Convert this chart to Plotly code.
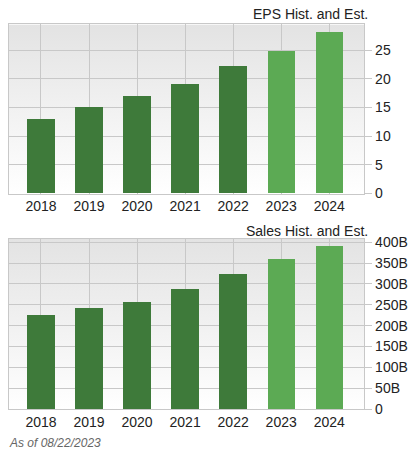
import base64
import plotly.graph_objects as go

years = ["2018", "2019", "2020", "2021", "2022", "2023", "2024"]
is_estimate = [False, False, False, False, False, True, True]
eps_values = [12.88, 15.11, 16.88, 19.02, 22.19, 24.8, 28.05]
sales_values = [226.2, 242.2, 257.1, 287.6, 324.2, 361.0, 391.0]  # billions
sales_ticks = [0, 50, 100, 150, 200, 250, 300, 350, 400]
sales_tick_labels = ["0"] + [f"{v}B" for v in sales_ticks[1:]]

W, H = 411, 464
HIST_COLOR = '#3e7a3a'
EST_COLOR = '#5caa54'
GRID = '#c8c8c8'
FONT = "Liberation Sans, Arial, sans-serif"

bar_colors = [EST_COLOR if e else HIST_COLOR for e in is_estimate]

# plot-area boxes in pixels (left, right, top, bottom)
x0_px, x1_px = 9, 364.3
eps_box = (20, 194)
sales_box = (240.7, 415.7)


def py(px):
    return 1 - px / H


svg = ('<svg xmlns="http://www.w3.org/2000/svg" width="10" height="100" preserveAspectRatio="none">'
       '<defs><linearGradient id="g" x1="0" y1="0" x2="0" y2="1">'
       '<stop offset="0" stop-color="#e3e3e3"/><stop offset="1" stop-color="#ffffff"/>'
       '</linearGradient></defs><rect width="10" height="100" fill="url(#g)"/></svg>')
bg_src = "data:image/svg+xml;base64," + base64.b64encode(svg.encode()).decode()

fig = go.Figure()

fig.add_trace(go.Bar(x=years, y=eps_values, marker_color=bar_colors,
                     marker_line_width=0, width=0.57, xaxis='x', yaxis='y',
                     hoverinfo='x+y'))
fig.add_trace(go.Bar(x=years, y=sales_values, marker_color=bar_colors,
                     marker_line_width=0, width=0.57, xaxis='x2', yaxis='y2',
                     hoverinfo='x+y'))

xdom = [x0_px / W, x1_px / W]
xaxis_common = dict(
    domain=xdom, type='category', range=[-0.666, 6.73],
    showgrid=True, gridcolor=GRID, gridwidth=1,
    showline=True, linecolor=GRID, linewidth=1, mirror=True,
    ticks='', tickfont=dict(size=14, color='#222', family=FONT),
    zeroline=False, fixedrange=True,
)
yaxis_common = dict(
    side='right', showgrid=True, gridcolor=GRID, gridwidth=1,
    showline=True, linecolor=GRID, linewidth=1, mirror=True,
    ticks='outside', ticklen=7, tickcolor=GRID,
    tickfont=dict(size=14, color='#222', family=FONT),
    zeroline=False, fixedrange=True,
)

fig.update_layout(
    width=W, height=H,
    margin=dict(l=0, r=0, t=0, b=0),
    paper_bgcolor='white',
    plot_bgcolor='rgba(0,0,0,0)',
    showlegend=False,
    font=dict(family=FONT, color='#222'),
    bargap=0,
    xaxis=dict(**xaxis_common, anchor='y'),
    yaxis=dict(**yaxis_common, anchor='x', domain=[py(eps_box[1]), py(eps_box[0])],
               range=[0, 29.5], tickvals=[0, 5, 10, 15, 20, 25]),
    xaxis2=dict(**xaxis_common, anchor='y2'),
    yaxis2=dict(**yaxis_common, anchor='x2', domain=[py(sales_box[1]), py(sales_box[0])],
                range=[0, 408], tickvals=sales_ticks, ticktext=sales_tick_labels),
)

for top, bottom in (eps_box, sales_box):
    fig.add_layout_image(dict(
        source=bg_src, xref='paper', yref='paper',
        x=xdom[0], y=py(top), sizex=xdom[1] - xdom[0], sizey=(bottom - top) / H,
        xanchor='left', yanchor='top', sizing='stretch', layer='below',
    ))

fig.add_annotation(text="EPS Hist. and Est.", xref='paper', yref='paper',
                   x=370 / W, y=py(9), xanchor='right', yanchor='middle',
                   showarrow=False, font=dict(size=14, color='#222', family=FONT))
fig.add_annotation(text="Sales Hist. and Est.", xref='paper', yref='paper',
                   x=370 / W, y=py(232), xanchor='right', yanchor='middle',
                   showarrow=False, font=dict(size=14, color='#222', family=FONT))
fig.add_annotation(text="<i>As of 08/22/2023</i>", xref='paper', yref='paper',
                   x=7 / W, y=py(450.5), xanchor='left', yanchor='middle',
                   showarrow=False, font=dict(size=12, color='#666', family=FONT))

# page body has a default 8px margin; drop it so the figure fills the window
fig.write_html("out.html", config={'displayModeBar': False},
               post_script="document.body.style.margin='0';document.body.style.overflow='hidden';")
